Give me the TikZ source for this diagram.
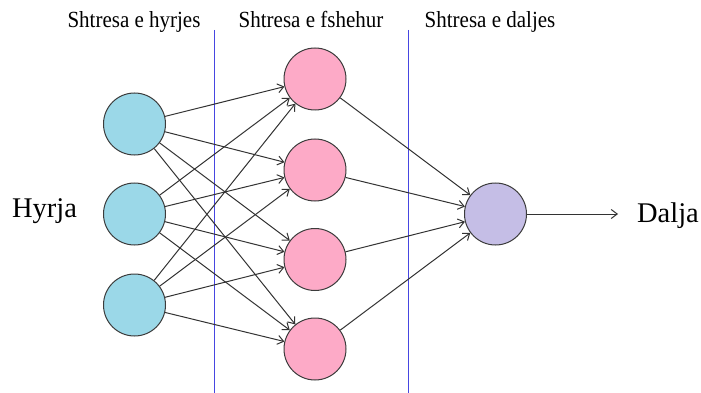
\documentclass[tikz,border=0pt]{standalone}
\usepackage{fontspec}
\setmainfont{Liberation Serif}
\usetikzlibrary{arrows.meta}
\definecolor{inblue}{RGB}{155,216,232}
\definecolor{hidpink}{RGB}{253,170,199}
\definecolor{outlav}{RGB}{197,190,230}
\definecolor{sepblue}{RGB}{70,70,225}
\definecolor{rimgray}{RGB}{60,60,60}
\tikzset{
  neuron/.style={circle, draw=rimgray, line width=1pt, minimum size=62pt, inner sep=0pt},
  inneuron/.style={neuron, fill=inblue},
  hidneuron/.style={neuron, fill=hidpink},
  outneuron/.style={neuron, fill=outlav},
  link/.style={draw=black!80, line width=1pt, -{Straight Barb[length=6pt,width=9pt]}},
  separator/.style={draw=sepblue, line width=1pt},
  layerlabel/.style={font=\fontsize{21}{21}\selectfont, anchor=base, yscale=1.1},
  biglabel/.style={font=\fontsize{28.5}{28.5}\selectfont, anchor=base}
}
\begin{document}
\begin{tikzpicture}[x=1pt,y=-1pt]
  \useasboundingbox (0,0) rectangle (701,393);

  % layer separators
  \coordinate (s1top) at (214,30);
  \coordinate (s1bot) at (214,393);
  \coordinate (s2top) at (408,30);
  \coordinate (s2bot) at (408,393);
  \draw[separator] (s1top) -- (s1bot);
  \draw[separator] (s2top) -- (s2bot);

  % layer titles
  \node[layerlabel] (t1) at (134,28) {Shtresa e hyrjes};
  \node[layerlabel] (t2) at (311,28) {Shtresa e fshehur};
  \node[layerlabel] (t3) at (490,28) {Shtresa e daljes};

  % input layer
  \node[inneuron] (i1) at (134.5,124) {};
  \node[inneuron] (i2) at (134.5,214) {};
  \node[inneuron] (i3) at (134.5,305) {};

  % hidden layer
  \node[hidneuron] (h1) at (315,79) {};
  \node[hidneuron] (h2) at (315,170) {};
  \node[hidneuron] (h3) at (315,259.5) {};
  \node[hidneuron] (h4) at (315,349) {};

  % output layer
  \node[outneuron] (o) at (495.5,214) {};

  % input and output captions
  \node[biglabel] (hyrja) at (44.5,217) {Hyrja};
  \node[biglabel] (dalja) at (668,222) {Dalja};
  \coordinate (oend) at (618,214);

  % connections
  \foreach \i in {1,2,3}
    \foreach \h in {1,2,3,4}
      \draw[link] (i\i) -- (h\h);
  \foreach \h in {1,2,3,4}
    \draw[link] (h\h) -- (o);
  \draw[link] (o) -- (oend);
\end{tikzpicture}
\end{document}
